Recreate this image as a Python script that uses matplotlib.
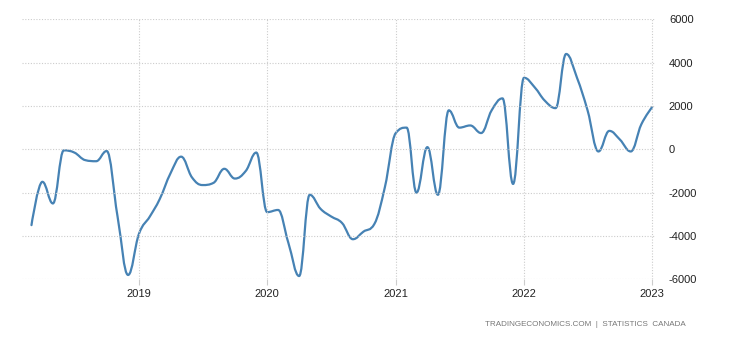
"""Trading-economics style monthly line chart (Statistics Canada series)."""

import numpy as np
import pandas as pd
import matplotlib
matplotlib.use("Agg")
import matplotlib.pyplot as plt
import matplotlib.dates as mdates
from matplotlib.path import Path
from matplotlib.patches import PathPatch

plt.rcParams["font.family"] = ["Liberation Sans", "DejaVu Sans"]
plt.rcParams["axes.unicode_minus"] = False

# monthly values, Mar 2018 .. Jan 2023
months = pd.date_range("2018-03-01", "2023-01-01", freq="MS")
values = [
    -3500, -1500, -2500, -50, -150, -500, -550, -80, -3100, -5800,           # 2018
    -3900, -3100, -2300, -1100, -340, -1300, -1650, -1550, -900, -1350,
    -1000, -150,                                                            # 2019
    -2900, -2800, -4300, -5850, -2100, -2750, -3100, -3400, -4150, -3800,
    -3450, -1750,                                                           # 2020
    750, 1000, -2000, 100, -2100, 1800, 1000, 1100, 750, 1800, 2350, -1600, # 2021
    3300, 2850, 2250, 1900, 4400, 3300, 1800, -100, 850, 450, -100, 1150,   # 2022
    1950,                                                                   # 2023
]
year_ticks = ["2019", "2020", "2021", "2022", "2023"]
y_ticks = [-6000, -4000, -2000, 0, 2000, 4000, 6000]

LINE = "#4682b4"
GRID = "#cccccc"
TEXT = "#222222"


def _spline_path(xs, ys, smoothing=1.5):
    """Highcharts-like spline: cubic Bezier segments through every point."""
    denom = smoothing + 1
    n = len(xs)
    verts = [(xs[0], ys[0])]
    codes = [Path.MOVETO]
    right_prev = (xs[0], ys[0])
    for i in range(1, n):
        x, y = xs[i], ys[i]
        if i == n - 1:
            left = (x, y)
            right = (x, y)
        else:
            lx, ly = xs[i - 1], ys[i - 1]
            nx, ny = xs[i + 1], ys[i + 1]
            lcx = (smoothing * x + lx) / denom
            lcy = (smoothing * y + ly) / denom
            rcx = (smoothing * x + nx) / denom
            rcy = (smoothing * y + ny) / denom
            corr = 0.0
            if rcx != lcx:
                corr = (rcy - lcy) * (rcx - x) / (rcx - lcx) + y - rcy
            lcy += corr
            rcy += corr
            if lcy > ly and lcy > y:
                lcy = max(ly, y)
                rcy = 2 * y - lcy
            elif lcy < ly and lcy < y:
                lcy = min(ly, y)
                rcy = 2 * y - lcy
            if rcy > ny and rcy > y:
                rcy = max(ny, y)
                lcy = 2 * y - rcy
            elif rcy < ny and rcy < y:
                rcy = min(ny, y)
                lcy = 2 * y - rcy
            left = (lcx, lcy)
            right = (rcx, rcy)
        verts += [right_prev, left, (x, y)]
        codes += [Path.CURVE4] * 3
        right_prev = right
    return Path(verts, codes)


fig = plt.figure(figsize=(7.3, 3.4), dpi=100)
ax = fig.add_axes([22 / 730, (340 - 279.3) / 340, 633 / 730, 260 / 340])

xs = mdates.date2num(months)
ax.add_patch(PathPatch(_spline_path(list(xs), values), facecolor="none",
                       edgecolor=LINE, lw=1.6, capstyle="round",
                       joinstyle="round"))

x0 = mdates.date2num(pd.Timestamp("2018-02-01")) + 1
x1 = mdates.date2num(pd.Timestamp("2023-01-09"))
ax.set_xlim(x0, x1)
ax.set_ylim(-6000, 6000)

ax.set_xticks(mdates.date2num(pd.to_datetime([f"{y}-01-01" for y in year_ticks])))
ax.set_xticklabels(year_ticks)
ax.set_yticks(y_ticks)
ax.set_yticklabels([str(v) for v in y_ticks])
ax.yaxis.tick_right()

for s in ax.spines.values():
    s.set_visible(False)
ax.grid(True, color=GRID, ls=(0, (1, 1.5)), lw=0.8)
ax.tick_params(axis="x", length=4, color=GRID, labelsize=8, labelcolor=TEXT, pad=3)
ax.tick_params(axis="y", length=0, labelsize=8, labelcolor=TEXT, pad=10)

fig.text(686 / 730, 1 - 325 / 340, "TRADINGECONOMICS.COM  |  STATISTICS  CANADA",
         ha="right", va="center", fontsize=5.8, color="#777777")

fig.savefig("out.png", dpi=100)
